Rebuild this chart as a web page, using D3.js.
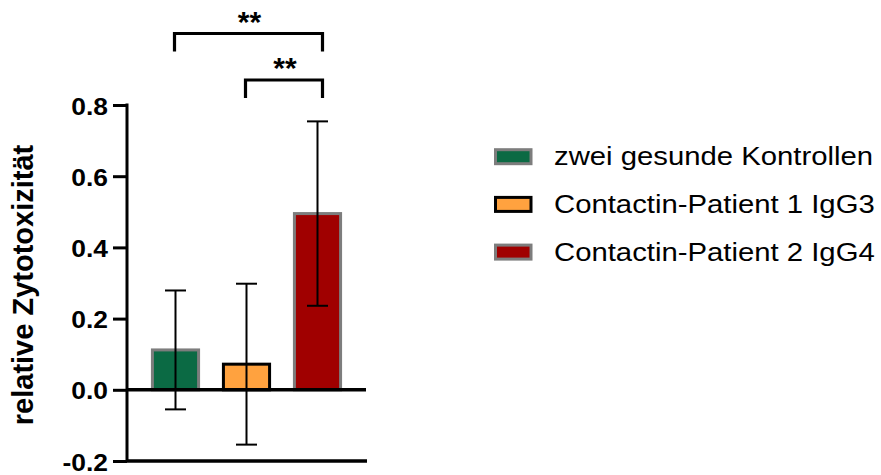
<!DOCTYPE html>
<html>
<head>
<meta charset="utf-8">
<script src="https://cdn.jsdelivr.net/npm/d3@7"></script>
<style>
  html, body { margin: 0; padding: 0; background: #ffffff; }
  svg { display: block; }
</style>
</head>
<body>
<script>
// ---- data ----
const categories = ["zwei gesunde Kontrollen", "Contactin-Patient 1 IgG3", "Contactin-Patient 2 IgG4"];
const means = [0.112, 0.072, 0.495];
const errors = [0.167, 0.226, 0.259];
const yTicks = [-0.2, 0.0, 0.2, 0.4, 0.6, 0.8];
const yLabel = "relative Zytotoxizität";
const comparisons = [
  { from: 0, to: 2, label: "**" },
  { from: 1, to: 2, label: "**" }
];
const fills = ["#0b6a44", "#ffa23f", "#a00000"];
const strokes = ["#7d7d7d", "#000000", "#7d7d7d"];

// ---- layout ----
const W = 881, H = 475;
const svg = d3.select("body").append("svg").attr("width", W).attr("height", H);

const x = d3.scaleBand().domain(categories).range([140, 353]).paddingInner(0.35).paddingOuter(0.175);
const y = d3.scaleLinear().domain([-0.2, 0.8]).range([461, 105]);
const axisX = 127;

// bars
const data = categories.map((c, i) => ({ c, m: means[i], e: errors[i], i }));
svg.append("g").selectAll("rect").data(data).join("rect")
  .attr("x", d => x(d.c))
  .attr("y", d => y(d.m))
  .attr("width", x.bandwidth())
  .attr("height", d => y(0) - y(d.m))
  .attr("fill", d => fills[d.i])
  .attr("stroke", d => strokes[d.i])
  .attr("stroke-width", 3);

// error bars
const eg = svg.append("g").attr("stroke", "#000").attr("stroke-width", 2).attr("fill", "none");
data.forEach(d => {
  const cx = x(d.c) + x.bandwidth() / 2;
  eg.append("line").attr("x1", cx).attr("x2", cx).attr("y1", y(d.m + d.e)).attr("y2", y(d.m - d.e));
  eg.append("line").attr("x1", cx - 10.5).attr("x2", cx + 10.5).attr("y1", y(d.m + d.e)).attr("y2", y(d.m + d.e));
  eg.append("line").attr("x1", cx - 10.5).attr("x2", cx + 10.5).attr("y1", y(d.m - d.e)).attr("y2", y(d.m - d.e));
});

// zero line and bottom line
svg.append("line").attr("x1", axisX).attr("x2", 366).attr("y1", y(0)).attr("y2", y(0))
  .attr("stroke", "#000").attr("stroke-width", 3.5);
svg.append("line").attr("x1", axisX).attr("x2", 367).attr("y1", y(-0.2)).attr("y2", y(-0.2))
  .attr("stroke", "#000").attr("stroke-width", 3.5);

// y axis
const yAxis = svg.append("g").attr("transform", `translate(${axisX},0)`)
  .call(d3.axisLeft(y).tickValues(yTicks).tickFormat(d3.format(".1f")).tickSizeOuter(0).tickSize(14).tickPadding(4));
yAxis.select(".domain").attr("stroke", "#000").attr("stroke-width", 3)
  .attr("d", `M0,${y(0.8) - 1.5}V${y(-0.2)}`);
yAxis.selectAll(".tick line").attr("stroke", "#000").attr("stroke-width", 3);
yAxis.selectAll(".tick text").remove();
yAxis.selectAll(".tick").append("g")
  .attr("transform", "translate(-19,9) scale(1.1,1)")
  .append("text")
  .attr("text-anchor", "end")
  .attr("font-family", "'Liberation Sans', Arial, sans-serif")
  .attr("font-weight", "bold")
  .attr("font-size", 24)
  .attr("fill", "#000")
  .text(d => d3.format(".1f")(d).replace("−", "-"));

// y label
svg.append("text")
  .attr("transform", `translate(33,${(y(0.8) + y(-0.2)) / 2 + 2}) rotate(-90)`)
  .attr("text-anchor", "middle")
  .attr("font-family", "'Liberation Sans', Arial, sans-serif")
  .attr("font-weight", "bold")
  .attr("font-size", 29)
  .attr("fill", "#000")
  .text(yLabel);

// significance brackets
const bracketLevels = [33.5, 80];
const legLen = 18;
comparisons.forEach((c, k) => {
  const x1 = x(categories[c.from]) + x.bandwidth() / 2 - 1;
  const x2 = x(categories[c.to]) + x.bandwidth() / 2 + 5;
  const by = bracketLevels[k];
  svg.append("path")
    .attr("d", `M${x1},${by + legLen}V${by}H${x2}V${by + legLen}`)
    .attr("fill", "none").attr("stroke", "#000").attr("stroke-width", 3.2)
    .attr("stroke-linejoin", "miter").attr("stroke-linecap", "butt");
  svg.append("text")
    .attr("x", (x1 + x2) / 2 + 1)
    .attr("y", by - 2)
    .attr("text-anchor", "middle")
    .attr("font-family", "'Liberation Sans', Arial, sans-serif")
    .attr("font-weight", "bold")
    .attr("font-size", 30)
    .attr("fill", "#000")
    .text(c.label);
});

// legend
const lg = svg.append("g");
categories.forEach((c, i) => {
  const cy = 156.7 + i * 47.7;
  lg.append("rect")
    .attr("x", 495.5).attr("y", cy - 7).attr("width", 35.5).attr("height", 14)
    .attr("fill", fills[i]).attr("stroke", strokes[i]).attr("stroke-width", 3);
  lg.append("g").attr("transform", `translate(554,${cy + 8.5}) scale(1.127,1)`)
    .append("text")
    .attr("font-family", "'Liberation Sans', Arial, sans-serif")
    .attr("font-size", 26)
    .attr("fill", "#000")
    .text(c);
});
</script>
</body>
</html>
